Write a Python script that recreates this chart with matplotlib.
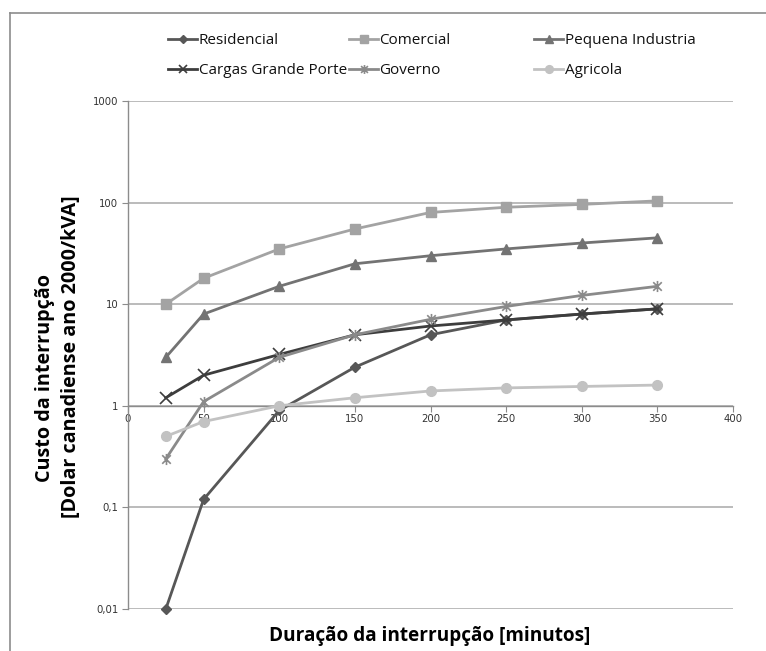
import matplotlib
matplotlib.use("Agg")
import matplotlib.pyplot as plt
from matplotlib.path import Path
from matplotlib.lines import Line2D
from matplotlib.ticker import FixedLocator, FixedFormatter, NullLocator

# Interruption duration (minutes)
duracao = [25, 50, 100, 150, 200, 250, 300, 350]

# Interruption cost per customer class (CAD 2000 / kVA)
residencial = [0.01, 0.12, 0.9, 2.4, 5.0, 7.0, 8.0, 9.0]
comercial = [10, 18, 35, 55, 80, 90, 96, 104]
pequena_industria = [3.0, 8.0, 15, 25, 30, 35, 40, 45]
cargas_grande_porte = [1.2, 2.0, 3.2, 5.0, 6.1, 7.0, 8.0, 9.0]
governo = [0.3, 1.1, 3.0, 5.0, 7.1, 9.5, 12.2, 15]
agricola = [0.5, 0.7, 1.0, 1.2, 1.4, 1.5, 1.55, 1.6]

y_ticks = [0.01, 0.1, 1, 10, 100, 1000]
y_tick_labels = ["0,01", "0,1", "1", "10", "100", "1000"]
x_ticks = [0, 50, 100, 150, 200, 250, 300, 350, 400]

# x with a vertical bar
asterisk = Path(
    [(-1, -1), (1, 1), (-1, 1), (1, -1), (0, -1.3), (0, 1.3)],
    [Path.MOVETO, Path.LINETO, Path.MOVETO, Path.LINETO, Path.MOVETO, Path.LINETO],
)

series = [
    ("Residencial", residencial, "#575757", "D", 5.0),
    ("Comercial", comercial, "#a3a3a3", "s", 7.0),
    ("Pequena Industria", pequena_industria, "#737373", "^", 7.5),
    ("Cargas Grande Porte", cargas_grande_porte, "#3d3d3d", "x", 8.0),
    ("Governo", governo, "#8a8a8a", asterisk, 8.0),
    ("Agricola", agricola, "#c2c2c2", "o", 7.0),
]

W, H = 766, 651
fig = plt.figure(figsize=(W / 100, H / 100), dpi=100)
fig.patch.set_facecolor("white")

ax = fig.add_axes([128 / W, 1 - 609 / H, (733 - 128) / W, (609 - 101) / H])
ax.set_yscale("log")
ax.set_xlim(0, 400)
ax.set_ylim(0.01, 1000)

handles = []
for name, vals, color, marker, ms in series:
    mew = 1.2 if marker == "x" or marker is asterisk else 1.0
    (ln,) = ax.plot(
        duracao, vals, color=color, lw=2.0, marker=marker, markersize=ms,
        markerfacecolor=color, markeredgecolor=color, markeredgewidth=mew,
        label=name, clip_on=False, zorder=3,
    )
    handles.append(ln)

# Gridlines and axes styling
ax.yaxis.set_major_locator(FixedLocator(y_ticks))
ax.yaxis.set_major_formatter(FixedFormatter(y_tick_labels))
ax.yaxis.set_minor_locator(NullLocator())
ax.set_xticks(x_ticks)
ax.set_xticklabels([str(v) for v in x_ticks])
ax.grid(axis="y", color="#b5b5b5", lw=1.3, zorder=0)
ax.set_axisbelow(True)

for s in ("top", "right"):
    ax.spines[s].set_visible(False)
ax.spines["left"].set_color("#8c8c8c")
ax.spines["left"].set_linewidth(1.0)
ax.spines["bottom"].set_position(("data", 1))
ax.spines["bottom"].set_color("#8c8c8c")
ax.spines["bottom"].set_linewidth(1.0)

ax.tick_params(axis="both", which="major", direction="out", length=4,
               width=0.8, color="#8c8c8c", labelsize=7.3, labelcolor="#333333")
ax.tick_params(axis="x", pad=2)
ax.tick_params(axis="y", pad=3)

bold = dict(family="Open Sans", fontweight="bold", color="black")
fig.text(430 / W, 1 - 636 / H, "Duração da interrupção [minutos]",
         ha="center", va="center", fontsize=13.7, **bold)
fig.text(45 / W, 1 - 378 / H, "Custo da interrupção",
         ha="center", va="center", rotation=90, fontsize=14.2, **bold)
fig.text(71 / W, 1 - 357 / H, "[Dolar canadiense ano 2000/kVA]",
         ha="center", va="center", rotation=90, fontsize=14.2, **bold)

# Legend laid out as three columns of two entries
col_x = [168, 349, 534]
for i, cx in enumerate(col_x):
    hs = [handles[i], handles[i + 3]]
    leg = fig.legend(
        hs, [h.get_label() for h in hs], loc="center left",
        bbox_to_anchor=(cx / W, 1 - 55.5 / H), frameon=False,
        borderpad=0, borderaxespad=0, handlelength=1.9, handletextpad=0.1,
        labelspacing=0.98, prop={"family": "Open Sans", "size": 11},
        markerscale=0.8,
    )
    for t in leg.get_texts():
        t.set_color("#111111")

# Outer chart frame
frame_kw = dict(color="#8c8c8c", lw=1.2, transform=fig.transFigure)
fig.add_artist(Line2D([10 / W, 10 / W], [0, 1 - 13 / H], **frame_kw))
fig.add_artist(Line2D([10 / W, 1], [1 - 13 / H, 1 - 13 / H], **frame_kw))

fig.savefig("out.png", dpi=100, facecolor="white")
